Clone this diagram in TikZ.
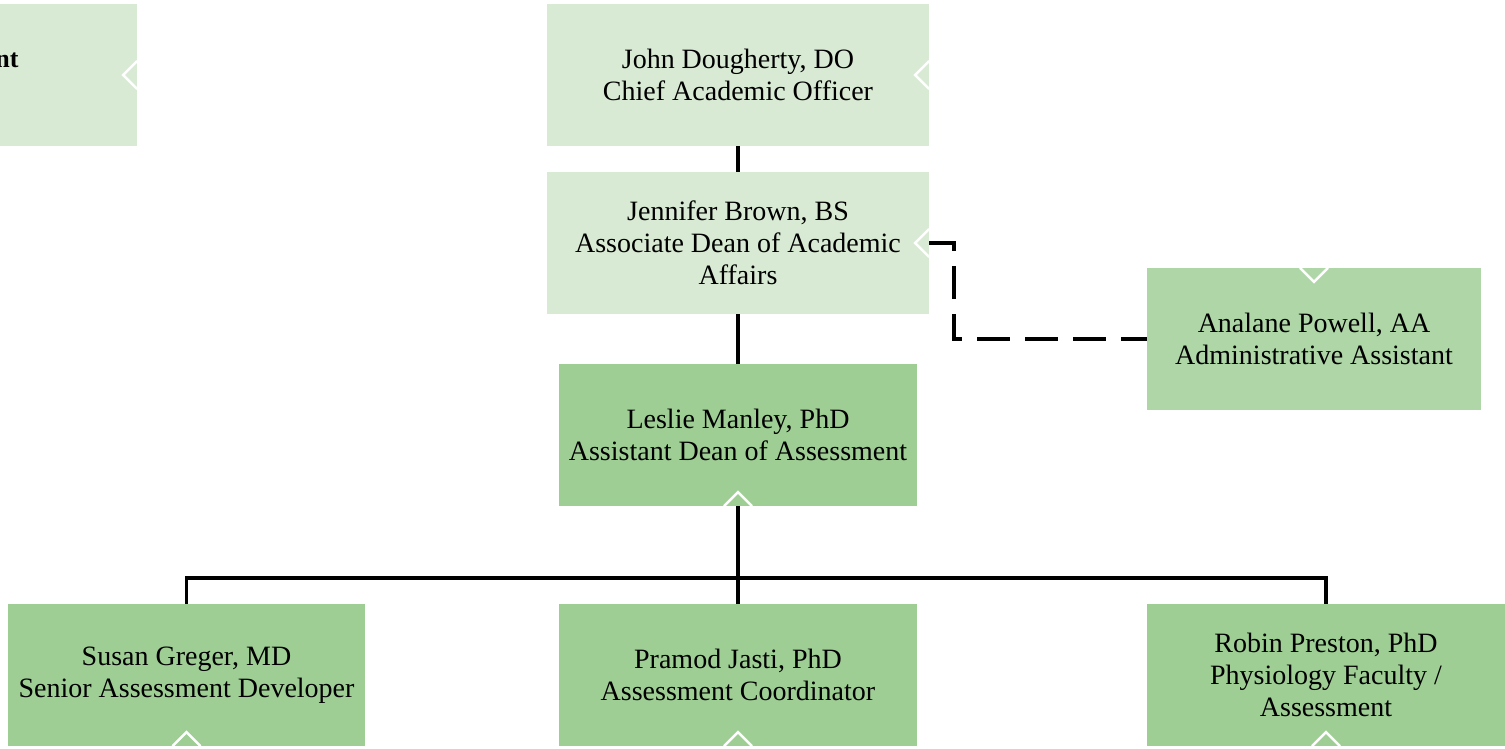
\documentclass[tikz,border=0pt]{standalone}
\usepackage{fontspec}
\setmainfont{Liberation Serif}
\usepackage{xcolor}
\usetikzlibrary{positioning}

\definecolor{paleGreen}{HTML}{D9EAD4}
\definecolor{midGreen}{HTML}{AED6A6}
\definecolor{deepGreen}{HTML}{9ECE94}

\begin{document}
\begin{tikzpicture}[x=1pt, y=-1pt,
    box/.style={inner sep=0pt, minimum height=142pt, align=center,
      font=\fontsize{28}{32}\selectfont},
    link/.style={line width=3.5pt},
    dlink/.style={line width=3.5pt, dash pattern=on 33pt off 15pt},
    chev/.style={draw=white, line width=2.5pt}]

  \useasboundingbox (0,0) rectangle (1505,748);
  \clip (0,0) rectangle (1505,748);

  % Верхний ряд
  \node[box, fill=paleGreen, minimum width=382pt] (prev) at (-54,75) {};
  \node[font=\fontsize{26}{32}\selectfont\bfseries, anchor=east] (prevtxt) at (22,60) {nt};
  \node[box, fill=paleGreen, minimum width=382pt] (john) at (738,75)
    {John Dougherty, DO\\Chief Academic Officer};
  \node[box, fill=paleGreen, minimum width=382pt] (jen) at (738,243)
    {Jennifer Brown, BS\\Associate Dean of Academic\\Affairs};
  \node[box, fill=midGreen, minimum width=334pt] (ana) at (1314,339)
    {Analane Powell, AA\\Administrative Assistant};
  \node[box, fill=deepGreen, minimum width=358pt] (les) at (738,435)
    {Leslie Manley, PhD\\Assistant Dean of Assessment};

  % Нижний ряд
  \node[box, fill=deepGreen, minimum width=357pt] (sus) at (186.5,675)
    {Susan Greger, MD\\Senior Assessment Developer};
  \node[box, fill=deepGreen, minimum width=358pt] (pra) at (738,675)
    {Pramod Jasti, PhD\\Assessment Coordinator};
  \node[box, fill=deepGreen, minimum width=358pt] (rob) at (1326,675)
    {Robin Preston, PhD\\Physiology Faculty /\\Assessment};

  % Уголки
  \draw[chev] (prev.east) ++(0,-14) -- ++(-14,14) -- ++(14,14);
  \draw[chev] (john.east) ++(0,-14) -- ++(-14,14) -- ++(14,14);
  \draw[chev] (jen.east) ++(0,-14) -- ++(-14,14) -- ++(14,14);
  \draw[chev] (ana.north) ++(-14,0) -- ++(14,14) -- ++(14,-14);
  \draw[chev] (les.south) ++(-14,0) -- ++(14,-14) -- ++(14,14);
  \draw[chev] (sus.south) ++(-14,0) -- ++(14,-14) -- ++(14,14);
  \draw[chev] (pra.south) ++(-14,0) -- ++(14,-14) -- ++(14,14);
  \draw[chev] (rob.south) ++(-14,0) -- ++(14,-14) -- ++(14,14);

  % Связи
  \coordinate (bus) at (738,578);
  \draw[link] (john) -- (jen);
  \draw[link] (jen) -- (les);
  \draw[link] (les) -- (bus);
  \draw[link] (bus) -| (sus);
  \draw[link] (bus) -| (rob);
  \draw[link] (bus) -- (pra);
  \draw[dlink] (jen.east) -- ++(25,0) |- (ana.west);

\end{tikzpicture}
\end{document}
